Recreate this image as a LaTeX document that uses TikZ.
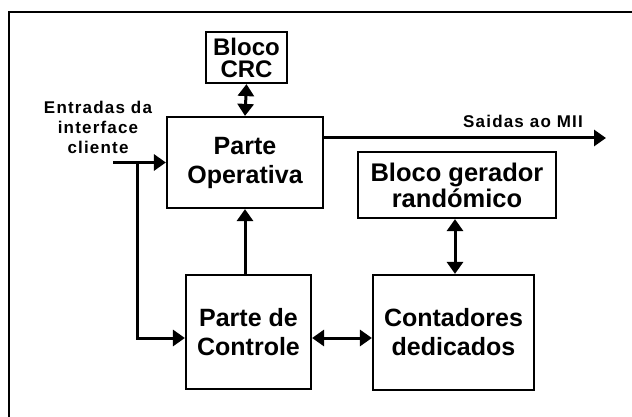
\documentclass[tikz,border=0pt]{standalone}
\usepackage{fontspec}
\setmainfont{Liberation Sans}
\usetikzlibrary{arrows.meta}
\begin{document}
\begin{tikzpicture}[x=1pt,y=-1pt,
  box/.style={draw,line width=2.2pt,inner sep=0pt,align=center,font=\bfseries\fontsize{25}{29}\selectfont},
  lbl/.style={inner sep=0pt,align=center,font=\bfseries\fontsize{17}{20}\selectfont\addfontfeatures{LetterSpace=7}},
  arr/.style={line width=3pt,-{Triangle[length=12pt,width=16pt]}},
  dbl/.style={line width=3pt,{Triangle[length=12pt,width=16pt]}-{Triangle[length=12pt,width=16pt]}}]
\useasboundingbox (0,0) rectangle (632,417);
\fill[white] (0,0) rectangle (632,417);
\draw[line width=2.2pt] (9,417) -- (9,12) -- (632,12);
% boxes
\node[box,minimum width=81pt,minimum height=51pt,font=\bfseries\fontsize{24}{22}\selectfont] (crc) at (246.5,57.5) {Bloco\\CRC};
\node[box,minimum width=156pt,minimum height=91pt] (po) at (245,162.5) {Parte\\Operativa};
\node[box,minimum width=198pt,minimum height=66pt,font=\bfseries\fontsize{25.5}{26}\selectfont] (bg) at (457,185) {Bloco gerador\\randómico};
\node[box,minimum width=125pt,minimum height=114pt] (pc) at (248.5,332) {Parte de\\Controle};
\node[box,minimum width=161pt,minimum height=115pt] (cd) at (453.5,332.5) {Contadores\\dedicados};
% labels
\node[lbl] (ent) at (98,127) {Entradas da\\interface\\cliente};
\node[lbl] (sai) at (523,121) {Saidas ao MII};
% coordinates
\coordinate (in) at (113,162.5);
\coordinate (jn) at (137,162.5);
\coordinate (out) at (606,138);
% connectors
\draw[dbl] (crc.south) -- (po.north);
\draw[arr] (in) -- (po.west);
\draw[arr] (jn) |- ([yshift=-6pt]pc.west);
\draw[arr] (pc.north -| po.south) -- (po.south);
\draw[dbl] ([yshift=-6pt]pc.east) -- ([yshift=-6pt]pc.east -| cd.west);
\draw[dbl] ([xshift=-2pt]bg.south) -- ([xshift=-2pt]bg.south |- cd.north);
\draw[arr] ([yshift=24.5pt]po.east) -- (out);
\end{tikzpicture}
\end{document}
